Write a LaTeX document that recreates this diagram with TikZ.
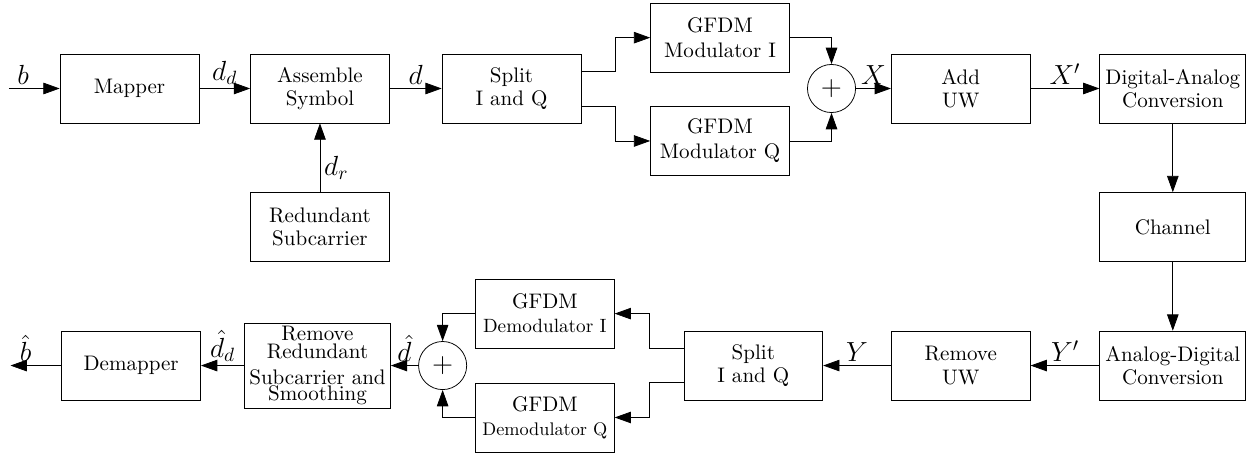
\documentclass[tikz,border=0pt,11pt]{standalone}
\usepackage{amsmath}
\usepackage{amssymb}
\usepackage{tikz}
\usetikzlibrary{arrows.meta,positioning}

\tikzset{
	block/.style={draw, rectangle, minimum width=2.54cm, minimum height=1.26cm,
		inner sep=1pt, align=center, font=\fontsize{10.95}{12}\selectfont},
	wideblock/.style={block, minimum width=2.67cm},
	adder/.style={draw, circle, minimum size=0.88cm, inner sep=0pt, font=\fontsize{15}{17}\selectfont},
	sig/.style={-{Triangle[length=8.5pt,width=6pt]}},
	lab/.style={font=\fontsize{14.4}{17}\selectfont, inner sep=2pt}
}

\begin{document}
\begin{tikzpicture}
	\useasboundingbox (0,0) rectangle (22.83,-8.32);
	\node[block] (mapper) at (2.369,-1.619) {Mapper};
	\node[block, right=0.93cm of mapper] (assemble) {Assemble\\Symbol};
	\node[block, below=1.26cm of assemble] (redund) {Redundant\\Subcarrier};
	\node[block, right=0.95cm of assemble] (splittx) {Split\\I and Q};
	\node[block, right=1.26cm of splittx, yshift=0.93cm] (modI) {GFDM\\[1pt]Modulator I};
	\node[block, right=1.26cm of splittx, yshift=-0.96cm] (modQ) {GFDM\\[1pt]Modulator Q};
	\node[adder, right=4.13cm of splittx] (sumtx) {$+$};
	\node[block, right=0.64cm of sumtx] (adduw) {Add\\UW};
	\node[wideblock, right=1.26cm of adduw] (dac) {Digital-Analog\\Conversion};
	\node[wideblock, below=1.26cm of dac] (channel) {Channel};
	\node[wideblock, below=1.26cm of channel] (adc) {Analog-Digital\\Conversion};
	\node[block, left=1.26cm of adc] (remuw) {Remove\\UW};
	\node[block, left=1.24cm of remuw] (splitrx) {Split\\I and Q};
	\node[block, left=1.26cm of splitrx, yshift=0.95cm] (demodI)
		{GFDM\\[0.5pt]{\small Demodulator I}};
	\node[block, left=1.26cm of splitrx, yshift=-0.95cm] (demodQ)
		{GFDM\\[0.5pt]{\fontsize{9.5}{11}\selectfont Demodulator Q}};
	\node[adder, left=3.96cm of splitrx] (sumrx) {$+$};
	\node[wideblock, left=0.5cm of sumrx, minimum height=1.55cm] (remred)
		{Remove\\[-3pt]Redundant\\[2pt]Subcarrier and\\[-4pt]Smoothing};
	\node[block, left=0.79cm of remred] (demapper) {Demapper};
	\coordinate[left=0.93cm of mapper] (bin);
	\coordinate[left=0.93cm of demapper] (bout);

	\draw[sig] (bin) -- node[lab, above, pos=0.28] {$b$} (mapper);
	\draw[sig] (mapper) -- node[lab, above] {$d_d$} (assemble);
	\draw[sig] (redund) -- node[lab, right, pos=0.35] {$d_r$} (assemble);
	\draw[sig] (assemble) -- node[lab, above] {$d$} (splittx);
	\draw[sig] ([yshift=0.32cm]splittx.east) -- ++(0.62,0) |- (modI.west);
	\draw[sig] ([yshift=-0.32cm]splittx.east) -- ++(0.62,0) |- (modQ.west);
	\draw[sig] (modI.east) -| (sumtx.north);
	\draw[sig] (modQ.east) -| (sumtx.south);
	\draw[sig] (sumtx) -- node[lab, above] {$X$} (adduw);
	\draw[sig] (adduw) -- node[lab, above] {$X'$} (dac);
	\draw[sig] (dac) -- (channel);
	\draw[sig] (channel) -- (adc);
	\draw[sig] (adc) -- node[lab, above] {$Y'$} (remuw);
	\draw[sig] (remuw) -- node[lab, above] {$Y$} (splitrx);
	\draw[sig] ([yshift=0.31cm]splitrx.west) -- ++(-0.62,0) |- (demodI.east);
	\draw[sig] ([yshift=-0.31cm]splitrx.west) -- ++(-0.62,0) |- (demodQ.east);
	\draw[sig] (demodI.west) -| (sumrx.north);
	\draw[sig] (demodQ.west) -| (sumrx.south);
	\draw[sig] (sumrx) -- node[lab, above] {$\hat{d}$} (remred);
	\draw[sig] (remred) -- node[lab, above] {$\hat{d}_d$} (demapper);
	\draw[sig] (demapper) -- node[lab, above, pos=0.7] {$\hat{b}$} (bout);
\end{tikzpicture}
\end{document}
